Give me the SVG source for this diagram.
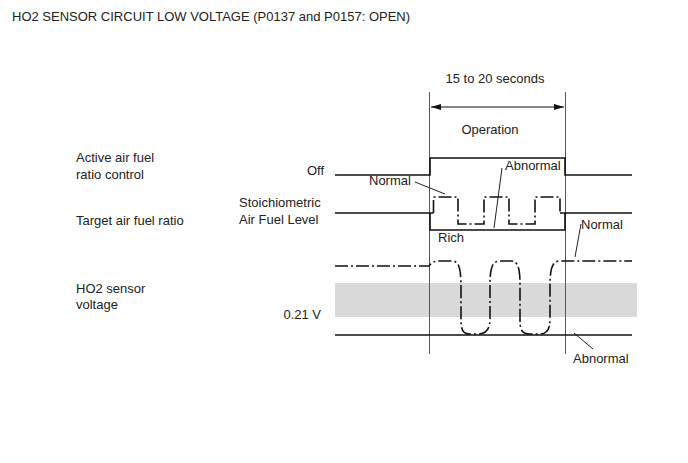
<svg xmlns="http://www.w3.org/2000/svg" width="688" height="463" viewBox="0 0 688 463">
<defs>
<style>
text{font-family:"Liberation Sans",Arial,sans-serif;font-size:13px;fill:#222}
.title{font-size:13px}
.sig{fill:none;stroke:#111;stroke-width:1.6}
.dd{fill:none;stroke:#111;stroke-width:1.6;stroke-dasharray:13,3,2,3}
.guide{fill:none;stroke:#555;stroke-width:1}
.lead{fill:none;stroke:#222;stroke-width:1}
.r{text-anchor:end}
.m{text-anchor:middle}
</style>
<marker id="ah" viewBox="0 0 10 6" refX="10" refY="3" markerWidth="10" markerHeight="6" orient="auto-start-reverse" markerUnits="userSpaceOnUse">
<path d="M0,0 L10,3 L0,6 Z" fill="#111"/>
</marker>
</defs>
<rect width="688" height="463" fill="#fff"/>
<text class="title" x="12" y="21">HO2 SENSOR CIRCUIT LOW VOLTAGE (P0137 and P0157: OPEN)</text>

<g id="band"><rect x="335" y="283" width="302" height="34" fill="#d9d9d9"/></g>

<g id="connectors">
<line class="guide" x1="429.5" y1="92" x2="429.5" y2="354"/>
<line class="guide" x1="565.5" y1="92" x2="565.5" y2="354"/>
<line x1="431" y1="107" x2="564" y2="107" stroke="#111" stroke-width="1" marker-start="url(#ah)" marker-end="url(#ah)"/>
<path class="lead" d="M415,182 L445,194"/>
<path class="lead" d="M502,168 L494,228"/>
<path class="lead" d="M581,224 L575,257"/>
<path class="lead" d="M574,333 L593,349"/>
</g>

<g id="active-control">
<path class="sig" d="M335,175 H430 V158 H565 V175 H632"/>
</g>
<g id="target-ratio">
<path class="sig" d="M335,213 H433.5"/>
<path class="sig" d="M430,213 V230 H565 V213"/>
<path class="sig" d="M560,213 H632"/>
<path class="dd" d="M433.5,213 V197 H458 V224 H484 V197 H509 V224 H535 V197 H560 V213"/>
</g>
<g id="ho2-voltage">
<path class="dd" d="M335,266 L429,266 C432,262 435,261 440,261 L452,261 C459,261 461,268 461,288 L461,320 C461,332 464,334 470,334 L478,334 C486,334 490,330 490,318 L490,285 C490,266 493,261 500,261 L511,261 C518,261 520,268 520,285 L520,320 C520,332 523,334 530,334 L540,334 C547,334 550,330 550,318 L550,285 C550,267 553,261 560,261 L632,261"/>
<path class="sig" d="M335,335 H632"/>
</g>

<g id="labels">
<text class="m" x="495" y="83">15 to 20 seconds</text>
<text class="m" x="490" y="134">Operation</text>
<text x="76" y="162">Active air fuel</text>
<text x="76" y="179">ratio control</text>
<text class="r" x="324" y="175">Off</text>
<text x="239" y="207">Stoichiometric</text>
<text x="239" y="224">Air Fuel Level</text>
<text x="76" y="225">Target air fuel ratio</text>
<text x="76" y="293">HO2 sensor</text>
<text x="76" y="309">voltage</text>
<text class="r" x="321" y="319">0.21 V</text>
<text x="369" y="185">Normal</text>
<text x="505" y="170">Abnormal</text>
<text x="438" y="242">Rich</text>
<text x="581" y="229">Normal</text>
<text x="573" y="363">Abnormal</text>
</g>
</svg>
